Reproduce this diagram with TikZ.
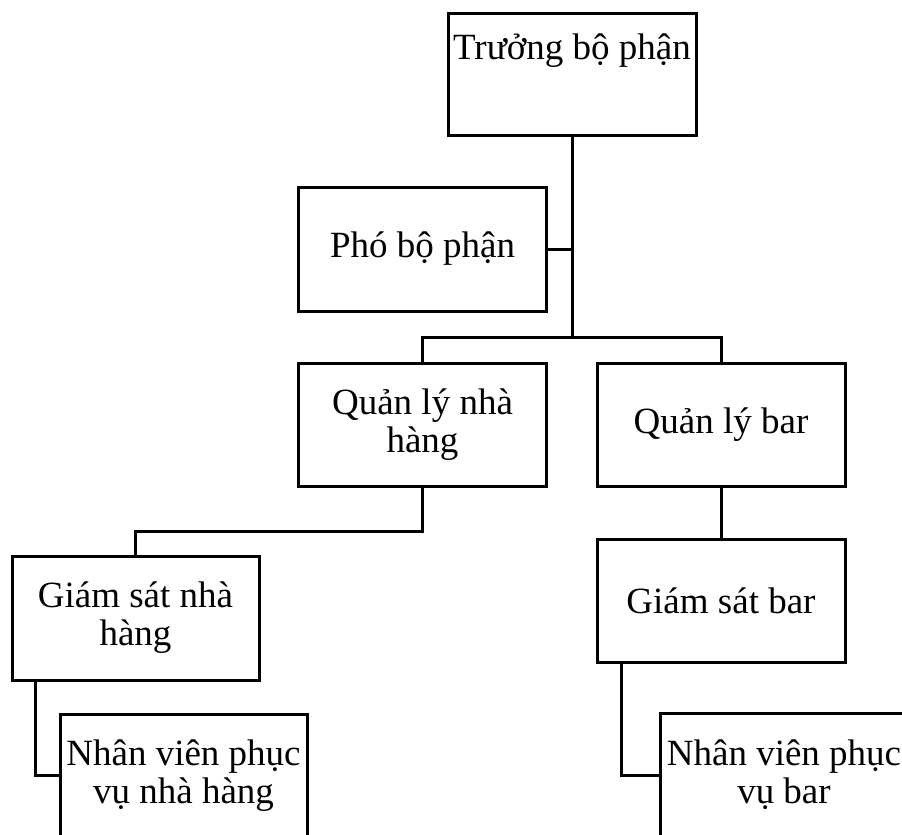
\documentclass[tikz,border=0pt]{standalone}
\usepackage{fontspec}
\setmainfont{Liberation Serif}
\begin{document}
\begin{tikzpicture}[x=1pt,y=-1pt,
  box/.style={draw, line width=3pt, inner sep=0pt, minimum width=248pt,
    minimum height=123pt, align=center,
    font=\fontsize{37}{38}\selectfont},
  link/.style={line width=3pt}]
\fill[white] (0,0) rectangle (902,835);
\useasboundingbox (0,0) rectangle (902,835);
\clip (0,0) rectangle (902,835);

% boxes
\node[box, minimum height=0pt, text height=46pt, text depth=76pt] (tr) at (572,74) {Trưởng bộ phận};
\node[box, minimum height=124pt] (pho) at (422.5,249) {Phó bộ phận};
\node[box] (qlnh) at (422.5,424.5) {Quản lý nhà\\hàng};
\node[box] (qlb) at (721,424.5) {Quản lý bar};
\node[box, minimum width=247pt, minimum height=124pt] (gsnh) at (135.5,618) {Giám sát nhà\\hàng};
\node[box] (gsb) at (721,600.5) {Giám sát bar};
\node[box, minimum width=247pt] (nv1) at (183.5,775.5) {Nhân viên phục\\vụ nhà hàng};
\node[box] (nv2) at (784,775) {Nhân viên phục\\vụ bar};

% connectors
\coordinate (j) at (572,337);
\draw[link] (tr.south) -- (j);
\draw[link] (pho.east) -- (pho.east -| j);
\draw[link] (qlnh.north) |- (j) -| (qlb.north);
\draw[link] (qlnh.south) -- ++(0,44) -| (gsnh.north);
\draw[link] (qlb.south) -- (gsb.north);
\draw[link] ([xshift=25pt]gsnh.south west) |- (nv1.west);
\draw[link] ([xshift=26pt]gsb.south west) |- (nv2.west);
\end{tikzpicture}
\end{document}
